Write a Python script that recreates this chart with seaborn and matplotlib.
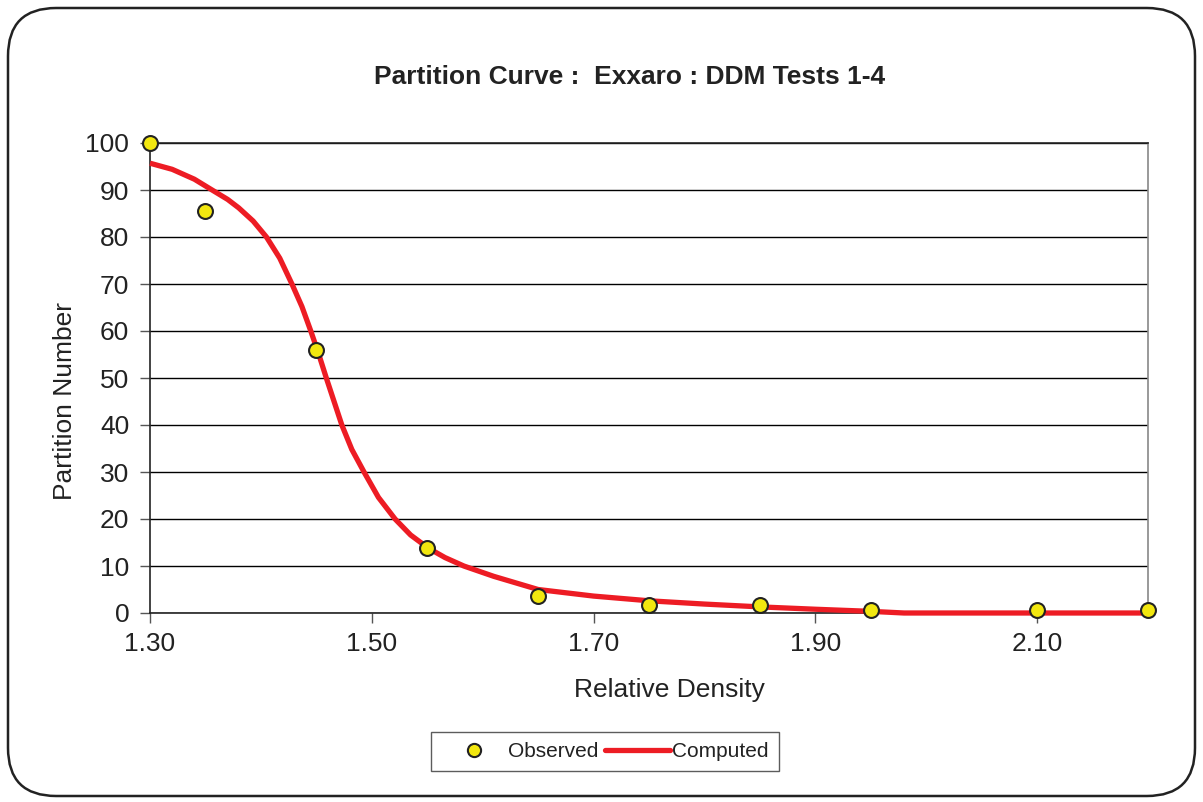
import numpy as np
import pandas as pd
import matplotlib
matplotlib.use("Agg")
import matplotlib.pyplot as plt
import seaborn as sns
from matplotlib.patches import FancyBboxPatch
from matplotlib.lines import Line2D

# Observed data
obs_density = [1.30, 1.35, 1.45, 1.55, 1.65, 1.75, 1.85, 1.95, 2.10, 2.20]
obs_partition = [100.0, 85.5, 55.9, 13.8, 3.7, 1.6, 1.6, 0.6, 0.6, 0.6]

# Computed curve
calc_density = [1.300, 1.320, 1.340, 1.356, 1.370, 1.380, 1.393, 1.405, 1.417, 1.428,
                1.437, 1.445, 1.452, 1.459, 1.466, 1.473, 1.482, 1.493, 1.506, 1.521,
                1.535, 1.551, 1.566, 1.583, 1.610, 1.650, 1.700, 1.750, 1.800, 1.850,
                1.900, 1.950, 1.980, 2.200]
calc_partition = [95.7, 94.4, 92.3, 90.0, 88.0, 86.2, 83.4, 80.0, 75.5, 70.0,
                  65.2, 60.0, 55.2, 50.0, 45.0, 40.0, 34.8, 30.0, 24.6, 20.0,
                  16.6, 13.8, 11.8, 10.0, 7.8, 5.0, 3.6, 2.6, 1.9, 1.3,
                  0.8, 0.35, 0.0, 0.0]

x_ticks = [1.30, 1.50, 1.70, 1.90, 2.10]
y_ticks = [0, 10, 20, 30, 40, 50, 60, 70, 80, 90, 100]

sns.set_style("white")
plt.rcParams['font.family'] = ['Liberation Sans', 'DejaVu Sans']

fig = plt.figure(figsize=(12.03, 8.02), dpi=100)
ax = fig.add_axes([150/1203, 1-613/802, (1148-150)/1203, (613-143)/802])

obs_df = pd.DataFrame({"x": obs_density, "y": obs_partition})
calc_df = pd.DataFrame({"x": calc_density, "y": calc_partition})

ax.set_axisbelow(True)
ax.yaxis.grid(True, color="black", linewidth=1.0)
ax.xaxis.grid(False)

line_artists_before = len(ax.lines)
sns.lineplot(data=calc_df, x="x", y="y", ax=ax, color="#ED1C24", linewidth=3.8,
             sort=True, zorder=3, clip_on=False)
for ln in ax.lines[line_artists_before:]:
    ln.set_solid_joinstyle("round")
    ln.set_solid_capstyle("butt")
sns.scatterplot(data=obs_df, x="x", y="y", ax=ax, color="#F2E70F", edgecolor="#222222",
                linewidth=1.5, s=115, zorder=4, clip_on=False)

ax.set_xlim(1.30, 2.20)
ax.set_ylim(0, 100)
ax.set_xticks(x_ticks)
ax.set_xticklabels([f"{v:.2f}" for v in x_ticks])
ax.set_yticks(y_ticks)
ax.set_yticklabels([str(v) for v in y_ticks])
ax.tick_params(axis="both", labelsize=19, direction="out", length=7, width=1,
               color="#555555", labelcolor="#222222")
ax.tick_params(axis="x", bottom=True, pad=7)
ax.tick_params(axis="y", left=True, pad=8)
ax.set_xlabel("")
ax.set_ylabel("")

for side in ["left", "bottom", "top"]:
    ax.spines[side].set_color("#222222")
    ax.spines[side].set_linewidth(1.2)
ax.spines["right"].set_color("#888888")
ax.spines["right"].set_linewidth(1.2)

fig.text(629.5/1203, 1-77/802, "Partition Curve :  Exxaro : DDM Tests 1-4",
         ha="center", va="center", fontsize=19, fontweight="bold", color="#222222")
fig.text(669.5/1203, 1-690/802, "Relative Density", ha="center", va="center",
         fontsize=19, color="#222222")
fig.text(65/1203, 1-401/802, "Partition Number", ha="center", va="center",
         fontsize=19, color="#222222", rotation=90)

handles = [
    Line2D([], [], linestyle="none", marker="o", markersize=9.5, markerfacecolor="#F2E70F",
           markeredgecolor="#222222", markeredgewidth=1.5),
    Line2D([], [], color="#ED1C24", linewidth=3.8),
]
leg = fig.legend(handles, ["Observed", "Computed"], loc="center",
                 bbox_to_anchor=(605/1203, 1-751.5/802), ncol=2, fontsize=15,
                 frameon=True, fancybox=False, edgecolor="#333333",
                 handlelength=3.1, columnspacing=0.3, handletextpad=0.1,
                 borderpad=0.5, borderaxespad=0)
leg.get_frame().set_linewidth(1.0)
for t in leg.get_texts():
    t.set_color("#222222")

border = FancyBboxPatch((8/1203, 6/802), (1195-8)/1203, (794-6)/802,
                        boxstyle="round,pad=0,rounding_size=0.04",
                        transform=fig.transFigure, fill=False,
                        edgecolor="#222222", linewidth=1.8,
                        mutation_aspect=1203/802)
fig.patches.append(border)

fig.savefig("out.png", dpi=100)
